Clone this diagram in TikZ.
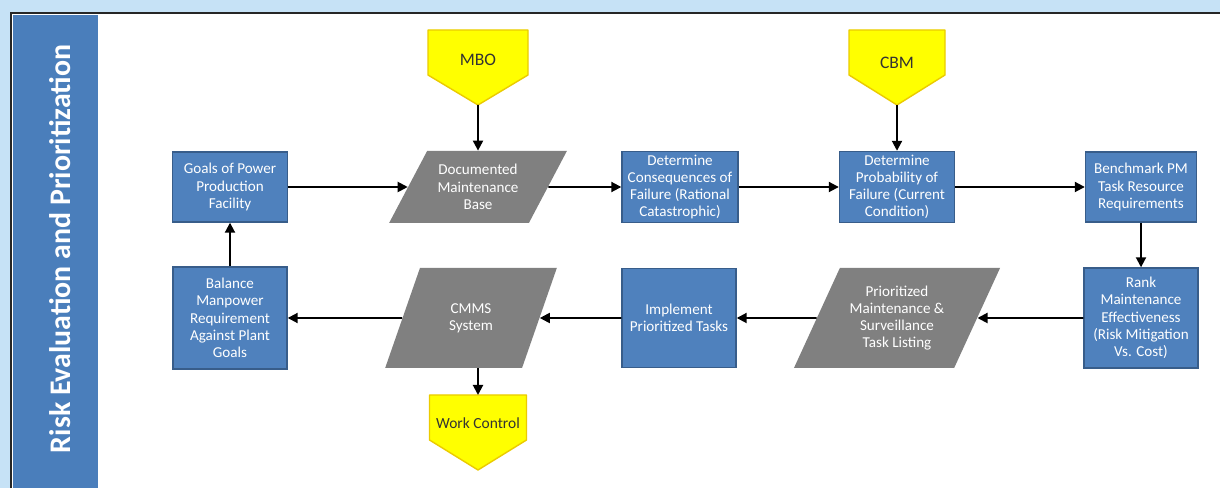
\documentclass[tikz,border=0pt]{standalone}
\usepackage{fontspec}
\setmainfont{Carlito}
\usetikzlibrary{shapes.geometric,arrows.meta}
\definecolor{boxblue}{HTML}{4F81BD}
\definecolor{boxedge}{HTML}{385D8A}
\definecolor{paragray}{HTML}{808080}
\definecolor{tagyellow}{HTML}{FFFF00}
\definecolor{tagedge}{HTML}{EBCB00}
\definecolor{pagebg}{HTML}{C6E2F6}
\definecolor{barblue}{HTML}{4A7EBB}

\begin{document}
\begin{tikzpicture}[
    box/.style={draw=boxedge, line width=0.8pt, fill=boxblue, text=white, align=center,
      font=\fontsize{8.6}{9.8}\selectfont, inner sep=1pt},
    para/.style={trapezium, trapezium left angle=57, trapezium right angle=123,
      trapezium stretches=true, fill=paragray, text=white, align=center,
      font=\fontsize{8.6}{9.8}\selectfont, inner sep=1pt},
    tag/.style={fill=tagyellow, draw=tagedge, line width=0.8pt, line join=round},
    tagtext/.style={text=black!80, font=\fontsize{10}{12}\selectfont},
    flow/.style={-{Triangle[length=2mm,width=2mm]}, line width=1.1pt}
  ]
  \useasboundingbox (0,0) rectangle (24.4,9.76);
  % page and side bar
  \fill[pagebg] (0,0) rectangle (24.4,9.76);
  \fill[white] (0.2,0) rectangle (24.4,9.52);
  \draw[line width=1pt, black!85] (0.22,0) -- (0.22,9.50) -- (24.4,9.50);
  \fill[barblue] (0.26,0) rectangle (1.96,9.46);
  \node[rotate=90, text=white, font=\bfseries\fontsize{17}{20}\selectfont] (title) at (1.2,4.78) {Risk Evaluation and Prioritization};

  % top row
  \node[box, minimum width=2.30cm, minimum height=1.40cm] (goals) at (4.60,6.02) {Goals of Power\\Production\\Facility};
  \node[para, minimum width=3.56cm, minimum height=1.44cm] (docbase) at (9.56,6.02) {Documented\\Maintenance\\Base};
  \node[box, minimum width=2.32cm, minimum height=1.42cm] (conseq) at (13.60,6.02) {Determine\\Consequences of\\Failure (Rational\\Catastrophic)};
  \node[box, minimum width=2.30cm, minimum height=1.42cm] (prob) at (17.94,6.02) {Determine\\Probability of\\Failure (Current\\Condition)};
  \node[box, minimum width=2.22cm, minimum height=1.40cm] (bench) at (22.82,6.02) {Benchmark PM\\Task Resource\\Requirements};

  % bottom row
  \node[box, minimum width=2.28cm, minimum height=2.00cm] (rank) at (22.82,3.40) {Rank\\Maintenance\\Effectiveness\\(Risk Mitigation\\Vs. Cost)};
  \node[para, trapezium left angle=60, trapezium right angle=120, minimum width=4.14cm, minimum height=2.00cm] (tasklist) at (17.94,3.40) {Prioritized\\Maintenance \&\\Surveillance\\Task Listing};
  \node[box, minimum width=2.28cm, minimum height=1.98cm] (implement) at (13.58,3.40) {Implement\\Prioritized Tasks};
  \node[para, trapezium left angle=64, trapezium right angle=116, minimum width=3.44cm, minimum height=2.00cm] (cmms) at (9.42,3.40) {CMMS\\System};
  \node[box, minimum width=2.28cm, minimum height=2.04cm] (balance) at (4.60,3.40) {Balance\\Manpower\\Requirement\\Against Plant\\Goals};

  % yellow tags
  \path[tag] (8.56,9.16) -- (10.56,9.16) -- (10.56,8.26) -- (9.56,7.66) -- (8.56,8.26) -- cycle;
  \node[tagtext] (mbo) at (9.56,8.56) {MBO};
  \coordinate (mbotip) at (9.56,7.66);
  \path[tag] (16.98,9.16) -- (18.90,9.16) -- (18.90,8.26) -- (17.94,7.66) -- (16.98,8.26) -- cycle;
  \node[tagtext] (cbm) at (17.94,8.50) {CBM};
  \coordinate (cbmtip) at (17.94,7.66);
  \path[tag] (8.59,1.86) -- (10.53,1.86) -- (10.53,0.96) -- (9.56,0.36) -- (8.59,0.96) -- cycle;
  \node[tagtext, font=\fontsize{8.8}{10}\selectfont] (workctl) at (9.56,1.30) {Work Control};
  \coordinate (wctop) at (9.56,1.86);

  % connectors
  \draw[flow] (goals) -- (docbase);
  \draw[flow] (docbase) -- (conseq);
  \draw[flow] (conseq) -- (prob);
  \draw[flow] (prob) -- (bench);
  \draw[flow] (bench) -- (rank);
  \draw[flow] (rank) -- (tasklist);
  \draw[flow] (tasklist) -- (implement);
  \draw[flow] (implement) -- (cmms);
  \draw[flow] (cmms) -- (balance);
  \draw[flow] (balance) -- (goals);
  \draw[flow] (mbotip) -- (docbase);
  \draw[flow] (cbmtip) -- (prob);
  \draw[flow] (cmms.south -| wctop) -- (wctop);
\end{tikzpicture}
\end{document}
